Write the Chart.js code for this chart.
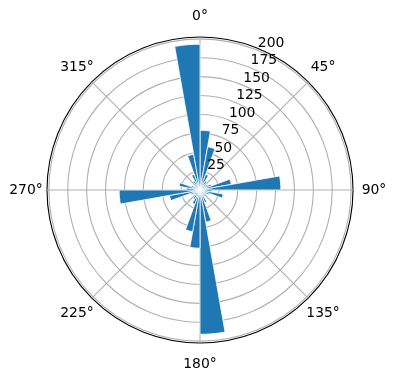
<!DOCTYPE html>
<html>
<head>
<meta charset="utf-8">
<script src="https://cdn.jsdelivr.net/npm/chart.js@4/dist/chart.umd.min.js"></script>
<style>
html,body{margin:0;padding:0;background:#fff;}
canvas{display:block;}
</style>
</head>
<body>
<canvas id="c" width="396" height="380"></canvas>
<script>
// Angle axis labels (every 45 degrees, clockwise from north)
const thetaLabels = ['0°', '45°', '90°', '135°', '180°', '225°', '270°', '315°'];
// Direction bins: start angle of each 10-degree bin
const binStarts = [0, 10, 20, 30, 40, 50, 60, 70, 80, 90, 100, 110, 120, 130, 140, 150, 160, 170,
                   180, 190, 200, 210, 220, 230, 240, 250, 260, 270, 280, 290, 300, 310, 320, 330, 340, 350];
// Bar heights per bin
const counts = [79, 58, 22, 14, 9, 12, 16, 42, 107, 16, 31, 13, 9, 7, 10, 18, 43, 191,
                77, 56, 20, 14, 8, 10, 13, 41, 107, 18, 28, 12, 8, 9, 14, 22, 48, 193];
// Radial tick labels
const radialTicks = [25, 50, 75, 100, 125, 150, 175, 200];
const rMax = 202.5;
const rLabelAngle = 22.5;

const textPlugin = {
  id: 'polarText',
  afterDraw(chart) {
    const s = chart.scales.r;
    const ctx = chart.ctx;
    ctx.save();
    ctx.fillStyle = '#000';
    ctx.font = '13.9px "DejaVu Sans"';
    ctx.textAlign = 'left';
    ctx.textBaseline = 'bottom';
    const a = rLabelAngle * Math.PI / 180;
    radialTicks.forEach(v => {
      const d = s.getDistanceFromCenterForValue(v);
      ctx.fillText(String(v), s.xCenter + d * Math.sin(a), s.yCenter - d * Math.cos(a));
    });
    ctx.textAlign = 'center';
    ctx.textBaseline = 'middle';
    thetaLabels.forEach((t, i) => {
      const p = s.getPointPosition(i, s.drawingArea + 21);
      ctx.fillText(t, p.x, p.y);
    });
    ctx.restore();
  }
};

new Chart(document.getElementById('c').getContext('2d'), {
  type: 'polarArea',
  data: {
    labels: thetaLabels,
    datasets: [{
      label: 'bins',
      data: counts,
      backgroundColor: '#1f77b4',
      borderColor: '#ffffff',
      borderWidth: 0.8
    }]
  },
  options: {
    responsive: false,
    animation: false,
    devicePixelRatio: 1,
    layout: { padding: { left: 47, right: 43, top: 37, bottom: 37 } },
    plugins: { legend: { display: false }, tooltip: { enabled: false } },
    scales: {
      r: {
        min: 0,
        max: rMax,
        startAngle: 0,
        z: 1,
        afterBuildTicks: (scale) => {
          scale.ticks = [0].concat(radialTicks, [rMax]).map(v => ({ value: v }));
        },
        ticks: { display: false, stepSize: 25 },
        grid: {
          circular: true,
          color: (c) => (c.tick && c.tick.value >= rMax) ? '#000000' : '#b0b0b0',
          lineWidth: 1.1
        },
        angleLines: { display: true, color: '#b0b0b0', lineWidth: 1.1 },
        pointLabels: { display: false }
      }
    }
  },
  plugins: [textPlugin]
});
</script>
</body>
</html>
